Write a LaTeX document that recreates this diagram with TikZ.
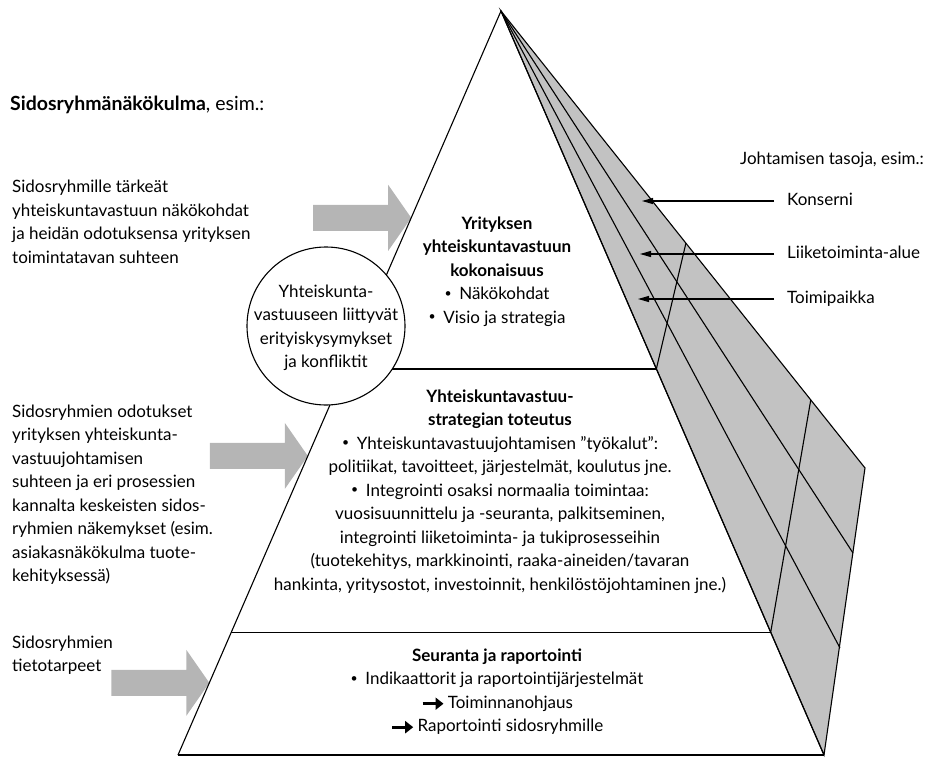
\documentclass[tikz,border=0pt]{standalone}
\usepackage{fontspec}
\setmainfont{Lato}
\usetikzlibrary{calc,arrows.meta}

\definecolor{facegrey}{gray}{0.76}
\definecolor{arrowgrey}{gray}{0.71}
\newcommand{\bodyfont}{\fontsize{17pt}{23.5pt}\selectfont}
\newcommand{\headfont}{\fontsize{19.5pt}{23.5pt}\selectfont}
\newcommand{\dotitem}{\raisebox{0.12em}{\scalebox{0.72}{•}}\hspace{0.45em}}
\newcommand{\fatarrow}{\tikz[baseline=-0.5ex]\draw[line width=3pt,-{Triangle[length=8pt,width=12pt]}] (0pt,0pt) -- (21pt,0pt);\,}

\tikzset{
  pics/inarrow/.style={code={
    \fill[arrowgrey] (0,0) -- (-23,-33) -- (-23,-13) -- (-98,-13) -- (-98,13) -- (-23,13) -- (-23,33) -- cycle;
  }}
}

\begin{document}
\begin{tikzpicture}[x=1pt,y=-1pt,
  pyrline/.style={line width=1.1pt},
  tierline/.style={line width=1.5pt},
  bodytext/.style={font=\bodyfont, inner sep=0pt},
  sidetext/.style={bodytext, anchor=base west, align=left},
  tiertext/.style={bodytext, anchor=base, align=center},
  levelarrow/.style={line width=1.1pt, -{Triangle[length=11pt,width=6pt]}, shorten <=13pt}]
\useasboundingbox (0,0) rectangle (930,758);

% corners of the pyramid
\coordinate (apex) at (501,11);
\coordinate (botleft) at (178,755);
\coordinate (botright) at (824,755);
\coordinate (outer) at (865,468);

% grey arrows from the left
\pic at ($(apex)!0.278!(botleft)$) {inarrow};
\pic at ($(apex)!0.598!(botleft)$) {inarrow};
\pic at ($(apex)!0.903!(botleft)$) {inarrow};

% side face with the levels
\filldraw[pyrline, fill=facegrey] (apex) -- (outer) -- (botright) -- cycle;
\coordinate (lvlmid) at (853,553);
\coordinate (lvlin) at (840,648);
\draw[pyrline] (apex) -- (lvlmid);
\draw[pyrline] (apex) -- (lvlin);

% front face and tiers
\coordinate (t1l) at ($(apex)!0.481!(botleft)$);
\coordinate (t1r) at ($(apex)!0.481!(botright)$);
\coordinate (t2l) at ($(apex)!0.835!(botleft)$);
\coordinate (t2r) at ($(apex)!0.835!(botright)$);
\draw[pyrline] (botleft) -- (apex) -- (botright);
\draw[tierline] (t1l) -- (t1r);
\draw[tierline] (t2l) -- (t2r);
\draw[tierline] (botleft) -- (botright);
\draw[pyrline] (t1r) -- ($(apex)!0.508!(outer)$);
\draw[pyrline] (t2r) -- ($(apex)!0.851!(outer)$);

\node[circle, draw, pyrline, fill=white, minimum size=158pt, inner sep=0pt] (issues) at (326,326) {};
\node[tiertext] (issuestext) at (326,367.5) {Yhteiskunta-\\vastuuseen liittyvät\\erityiskysymykset\\ja konfliktit};

% texts in the pyramid (base = last line)
\node[tiertext] (whole) at (497,323) {\textbf{Yrityksen}\\\textbf{yhteiskuntavastuun}\\\textbf{kokonaisuus}\\\dotitem Näkökohdat\\\dotitem Visio ja strategia};
\node[tiertext] (impl) at (500,590) {\textbf{Yhteiskuntavastuu-}\\\textbf{strategian toteutus}\\\dotitem Yhteiskuntavastuujohtamisen ”työkalut”:\\politiikat, tavoitteet, järjestelmät, koulutus jne.\\\dotitem Integrointi osaksi normaalia toimintaa:\\vuosisuunnittelu ja -seuranta, palkitseminen,\\integrointi liiketoiminta- ja tukiprosesseihin\\(tuotekehitys, markkinointi, raaka-aineiden/tavaran\\hankinta, yritysostot, investoinnit, henkilöstöjohtaminen jne.)};
\node[tiertext] (report) at (497,731.5) {\textbf{Seuranta ja raportointi}\\\dotitem Indikaattorit ja raportointijärjestelmät\\\fatarrow Toiminnanohjaus\\\fatarrow Raportointi sidosryhmille};

% stakeholder side
\node[sidetext, font=\headfont] (heading) at (10,110) {\textbf{Sidosryhmänäkökulma}, esim.:};
\node[sidetext] (views) at (12,263) {Sidosryhmille tärkeät\\yhteiskuntavastuun näkökohdat\\ja heidän odotuksensa yrityksen\\toimintatavan suhteen};
\node[sidetext] (expect) at (12,581.5) {Sidosryhmien odotukset\\yrityksen yhteiskunta-\\vastuujohtamisen\\suhteen ja eri prosessien\\kannalta keskeisten sidos-\\ryhmien näkemykset (esim.\\asiakasnäkökulma tuote-\\kehityksessä)};
\node[sidetext] (needs) at (12,671.5) {Sidosryhmien\\tietotarpeet};

% management levels
\node[sidetext] (levels) at (740,164.5) {Johtamisen tasoja, esim.:};
\node[sidetext] (konserni) at (787,205.5) {Konserni};
\node[sidetext] (alue) at (787,258.5) {Liiketoiminta-alue};
\node[sidetext] (paikka) at (787,303.5) {Toimipaikka};
\coordinate (tipk) at (642,201);
\coordinate (tipa) at (640,254);
\coordinate (tipp) at (638,299);
\draw[levelarrow] (konserni.base west |- tipk) -- (tipk);
\draw[levelarrow] (alue.base west |- tipa) -- (tipa);
\draw[levelarrow] (paikka.base west |- tipp) -- (tipp);
\end{tikzpicture}
\end{document}
